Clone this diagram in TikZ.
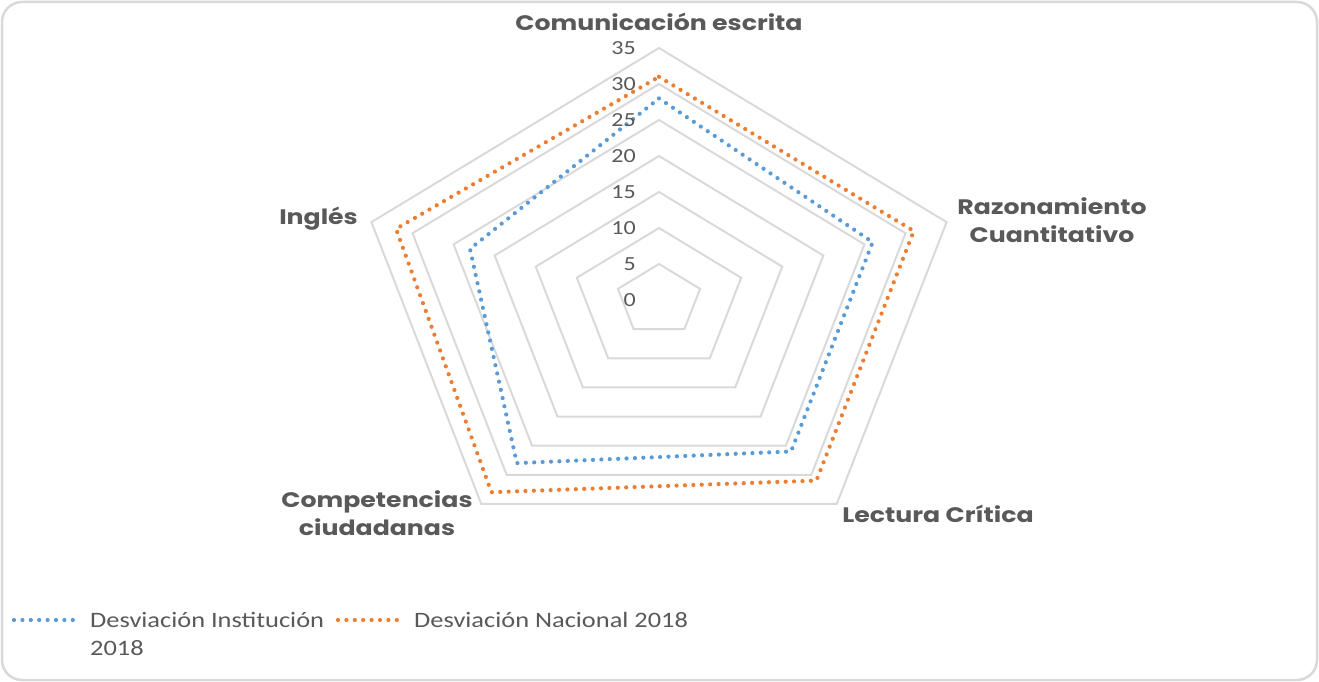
\documentclass[tikz,border=0pt]{standalone}
\usepackage{fontspec}
\setmainfont{Carlito}
\newfontfamily\lblfont[FakeStretch=1.2]{Carlito}
\newfontfamily\catfont[FakeStretch=1.2]{Poppins}
\definecolor{txtgray}{HTML}{595959}
\definecolor{gridgray}{HTML}{D9D9D9}
\definecolor{instblue}{HTML}{5B9BD5}
\definecolor{nacorange}{HTML}{ED7D31}
\tikzset{
  frame/.style={draw=gridgray, line width=2.5pt, rounded corners=20pt},
  gridline/.style={draw=gridgray, line width=2pt, line join=miter},
  inst/.style={draw=instblue, line width=4.2pt, line cap=round, dash pattern=on 0pt off 8.4pt},
  nac/.style={draw=nacorange, line width=4.2pt, line cap=round, dash pattern=on 0pt off 8.4pt},
  ticklbl/.style={text=txtgray, font=\lblfont\fontsize{20}{22}\selectfont, anchor=east, inner sep=0pt},
  catlbl/.style={text=txtgray, font=\catfont\bfseries\fontsize{21}{28}\selectfont, align=center, inner sep=0pt},
  leglbl/.style={text=txtgray, font=\lblfont\fontsize{22}{28}\selectfont, anchor=west, inner sep=0pt}
}
\begin{document}
\begin{tikzpicture}[x={(1pt,0)},y={(0,-1pt)}]
\useasboundingbox (0,0) rectangle (1319,682);
\draw[frame] (2,2) rectangle (1317,680);
\begin{scope}[shift={(659,300)}, x={(8.64pt,0)}, y={(0,7.2pt)}]
  \foreach \r in {5,10,...,35}
    \draw[gridline] (90:\r) -- (18:\r) -- (-54:\r) -- (-126:\r) -- (162:\r) -- cycle;
  \draw[inst] (90:28) -- (18:26) -- (-54:26) -- (-126:28) -- (162:23) -- cycle;
  \draw[nac] (90:31) -- (18:31) -- (-54:31) -- (-126:33) -- (162:32) -- cycle;
\end{scope}
\foreach \v in {0,5,...,35}
  \node[ticklbl] (t\v) at (636,{300-7.2*\v}) {\v};
\node[catlbl] (ce) at (659,22) {Comunicación escrita};
\node[catlbl] (rc) at (1052,220) {Razonamiento\\Cuantitativo};
\node[catlbl, anchor=east] (in) at (358,219) {Inglés};
\node[catlbl] (lc) at (938,514) {Lectura Crítica};
\node[catlbl] (cc) at (377,513) {Competencias\\ciudadanas};
\coordinate (l1a) at (14,620);
\coordinate (l1b) at (80,620);
\coordinate (l2a) at (338,620);
\coordinate (l2b) at (404,620);
\draw[inst] (l1a) -- (l1b);
\draw[nac] (l2a) -- (l2b);
\node[leglbl] (lg1) at (90,620) {Desviación Institución};
\node[leglbl] (lg1b) at (90,648) {2018};
\node[leglbl] (lg2) at (414,620) {Desviación Nacional 2018};
\end{tikzpicture}
\end{document}
